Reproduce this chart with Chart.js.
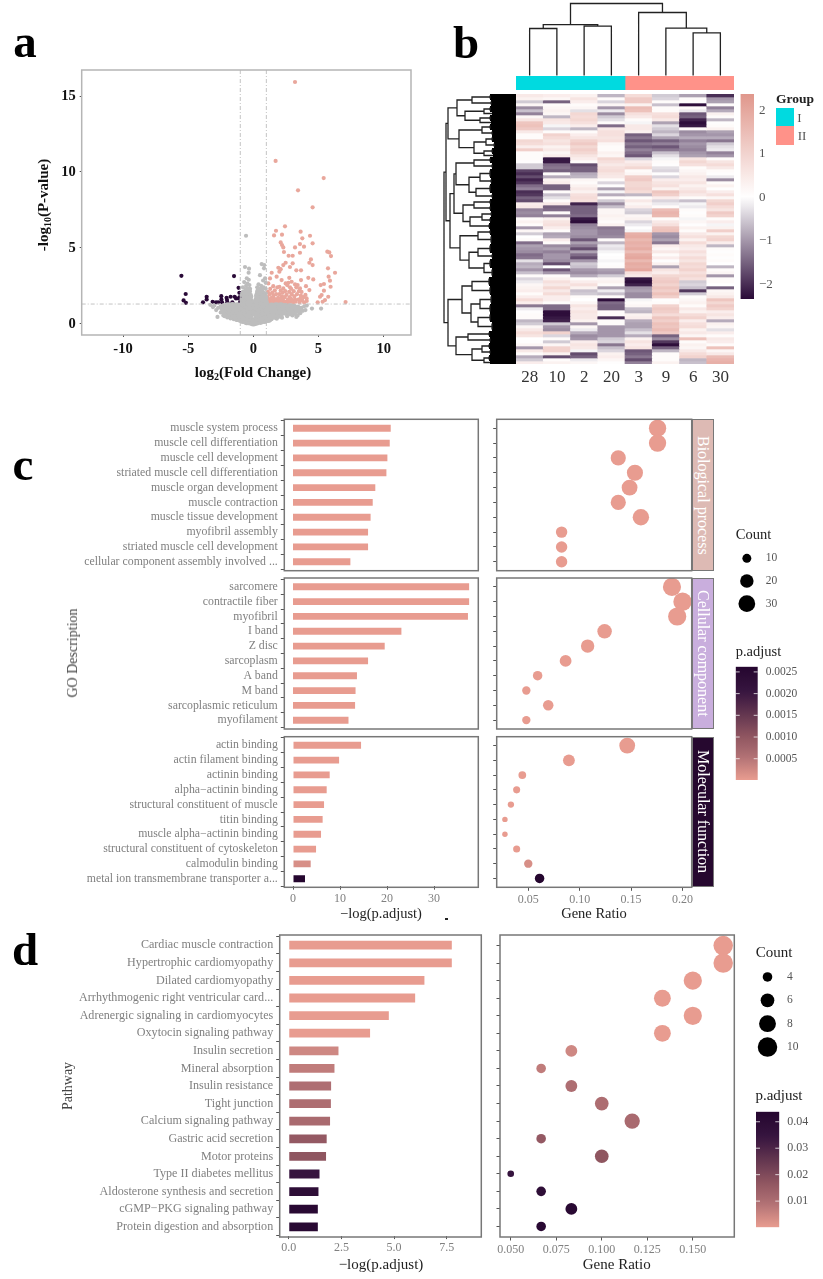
<!DOCTYPE html>
<html>
<head>
<meta charset="utf-8">
<title>Volcano, heatmap and enrichment panels</title>
<style>
  html, body { margin: 0; padding: 0; background: #fff; }
  #page { position: relative; width: 823px; height: 1279px; overflow: hidden; font-family: "Liberation Serif", serif; filter: blur(0.35px); }
  #page canvas { position: absolute; }
  .txt { position: absolute; white-space: nowrap; line-height: 1; }
  .txt sub { font-size: 10px; line-height: 0; vertical-align: -3px; }
  .strip { position: absolute; box-sizing: border-box; border: 1.5px solid #777; color: #fff; font-size: 16px;
           writing-mode: vertical-rl; display: flex; align-items: center; justify-content: center; }
  .swatch { position: absolute; }
</style>
<script src="https://cdn.jsdelivr.net/npm/chart.js@4/dist/chart.umd.min.js"></script>
</head>
<body>
<div id="page"></div>
<script>
// panel a: volcano points, [log2FC, -log10P]
const volcanoUp = [[3.2,15.93],[1.71,10.73],[5.4,9.6],[3.43,8.79],[4.55,7.67],[2.43,6.42],[1.74,6.13],[1.59,5.82],[2.2,5.87],[3.63,6.07],[4.35,5.8],[3.76,5.63],[2.1,5.36],[4.55,5.3],[3.58,5.25],[2.2,5.19],[2.3,5.03],[3.2,5.03],[3.89,5.08],[2.35,4.73],[3.58,4.68],[5.68,4.75],[5.83,4.7],[5.96,4.46],[2.71,4.48],[3.02,4.48],[4.42,4.24],[4.3,4.02],[4.55,3.87],[3.02,3.98],[2.48,4.02],[2.3,3.87],[2.81,3.74],[1.92,3.69],[2.1,3.6],[3.3,3.52],[3.66,3.52],[5.73,3.65],[6.27,3.36],[1.41,3.36],[2,3.43],[1.79,3.1],[1.28,2.99],[4.22,3.03],[4.6,2.92],[5.78,3.1],[5.88,2.84],[2.76,3.03],[3.66,2.88],[2.17,2.88],[2.94,2.77],[2.69,2.7],[2.48,2.66],[3.2,2.59],[3.4,2.55],[5.17,2.55],[5.42,2.62],[5.93,2.44],[1.15,2.66],[1.53,2.48],[2,2.44],[2.3,2.33],[2.81,2.4],[3.58,2.33],[4.04,2.48],[4.3,2.22],[5.42,2.18],[5.24,1.89],[5.75,1.78],[5.12,1.78],[5.5,1.56],[5.32,1.45],[4.94,1.41],[7.08,1.43],[4.09,1.67],
  [1.08,1.4],[1.1,1.75],[1.12,2.1],[1.2,1.5],[1.25,1.95],[1.3,2.3],[1.35,1.38],[1.4,1.7],[1.45,2.05],[1.5,1.45],[1.55,1.85],[1.6,1.38],[1.65,2.2],[1.7,1.6],[1.75,1.95],[1.8,1.4],[1.85,2.4],[1.9,1.7],[1.95,1.4],[2,1.95],[2.05,1.55],[2.1,2.2],[2.15,1.4],[2.2,1.8],[2.25,2.05],[2.3,1.5],[2.35,1.38],[2.4,1.75],[2.45,2.15],[2.5,1.45],[2.55,1.9],[2.6,2.55],[2.65,1.6],[2.7,1.38],[2.75,2.1],[2.8,1.75],[2.85,1.45],[2.9,2.3],[2.95,1.95],[3,1.55],[3.05,1.38],[3.1,2.15],[3.15,1.8],[3.25,1.45],[3.3,2.4],[3.35,1.95],[3.45,1.6],[3.5,2.15],[3.55,1.4],[3.65,1.85],[3.7,2.1],[3.75,1.55],[3.85,1.75],[3.9,1.4],[4,1.9],[4.1,1.5],[1.15,1.6],[1.3,1.6],[1.45,1.5],[1.6,1.65],[1.75,1.48],[1.9,1.5],[2.1,1.68],[2.3,1.68],[2.6,1.42],[2.9,1.62],[3.2,1.6],[3.6,1.65]];
const volcanoDown = [[-5.52,3.16],[-1.48,3.14],[-5.19,1.96],[-1.13,2.37],[-1.07,2.04],[-5.35,1.54],[-5.17,1.38],[-3.86,1.41],[-3.58,1.78],[-3.58,1.6],[-3.12,1.45],[-2.86,1.41],[-2.69,1.41],[-2.46,1.82],[-2.4,1.41],[-2.05,1.71],[-1.99,1.41],[-1.74,1.78],[-1.61,1.41],[-1.43,1.78],[-1.33,1.67],[-1.13,1.67],[-1.02,1.41],[-1.02,1.78],[-2.02,1.56],[-2.45,1.6]];
const volcanoCore = [[-.8,.28],[-.5,.2],[-.25,.18],[0,.12],[.25,.17],[.55,.22],[.85,.28],[1.15,.35],[-1.2,.42],[-1.7,.55],[-1.4,.6],[-1,.58],[-.7,.5],[-.4,.42],[.35,.42],[.7,.5],[1,.55],[1.35,.55],[1.7,.55],[2,.62],[-2.1,.72],[-1.8,.85],[-1.45,.88],[-1.1,.85],[-.8,.8],[-.5,.72],[-.3,.62],[.3,.65],[.55,.75],[.85,.82],[1.2,.82],[1.55,.85],[1.9,.88],[2.25,.85],[2.55,.8],[2.85,.8],[-2.25,1.05],[-1.95,1.12],[-1.6,1.14],[-1.25,1.12],[-.95,1.1],[-.65,1.02],[-.4,.95],[-.25,.85],[.25,.9],[.45,1.02],[.75,1.08],[1.05,1.08],[1.4,1.1],[1.75,1.12],[2.1,1.12],[2.45,1.08],[2.8,1.05],[3.1,1.02],[3.4,.95],[-.7,1.35],[-.45,1.25],[-.3,1.15],[-.6,1.6],[-.4,1.55],[-.25,1.4],[-.5,1.9],[-.35,1.8],[-.45,2.15],[.25,1.15],[.4,1.3],[.7,1.3],[.35,1.55],[.6,1.6],[.85,1.4],[.4,1.85],[.7,1.9],[.5,2.15],[.8,1.7]];
const volcanoEdge = [[-3.3,1.25],[-3.1,1.1],[-3,1.2],[-2.85,.9],[-2.75,.45],[-2.7,1.05],[-2.5,1.15],[-2.5,.75],[-2.4,.95],[-2.3,.55],[-2.2,.5],[-2,.42],[-1.75,.35],[-1.5,.3],[-1.3,.25],[-1.05,.2],[3.2,.65],[3.4,.55],[3.3,.45],[3.6,.7],[3.7,1.05],[3.9,1.15],[4.1,1.2],[4.5,1],[5.2,1],[4,.9],[3.8,.85],[1.4,.3],[1.8,.33],[2.2,.4],[2.6,.5],[3,.55],[-.64,3.74],[-.33,3.63],[-.36,3.36],[-.56,5.8],[.64,3.93],[.84,3.87],[.82,3.65],[.51,3.2],[.9,2.99],[.75,2.85],[.95,2.7],[-.5,3],[-.35,2.9],[-.7,2.75],[-.45,2.65],[-.55,2.5],[-.3,2.55],[-.8,2.4],[-.25,2.3],[.3,2.4],[.4,2.6],[.6,2.5],[.8,2.4],[.95,2.3],[.3,2.1],[-.8,2.1],[-.9,1.9],[-.9,1.6],[.95,2],[.95,1.6]];
const volcanoXTicks = [-10, -5, 0, 5, 10];
const volcanoYTicks = [0, 5, 10, 15];
const foldCutoffs = [-1, 1];
const pCutoff = 1.3;

// panel b: heatmap, one list per sample, top row first
const sampleNames = ['28', '10', '2', '20', '3', '9', '6', '30'];
const col28 = [.5,.3,-.5,.2,-1.1,-.6,-1.2,.2,.6,1.3,1.4,1.2,.5,.1,.1,.9,.8,.4,1.1,.1,.1,.1,.05,-.5,-.5,-1.8,-2,-1.7,-2.1,-1.9,-1.4,-1.2,-2,-1.9,-1.5,-1.7,.4,.5,-1.2,-1.1,-1.2,.1,.3,.1,-1,.2,-.5,0,.1,-1.4,-.9,-1,-1.1,-1.4,-1.3,-.3,-.8,-.7,-1,-.6,.1,-.4,-.2,.2,.3,.4,.1,.4,.8,.4,-1.3,-.2,.05,.1,.1,-.7,-.5,.2,.5,.8,.6,0,.05,.2,-1,.5,.1,-.8,-.5,.4];
const col10 = [.4,.2,-1.5,.1,.2,.3,.2,-.7,.6,.5,-.1,-.4,.1,1,.8,.6,.7,.3,.5,.2,.4,-2.2,-2.2,-1.4,-1.3,-1.5,.1,-.8,.3,.4,-1.5,-1.5,.1,-.6,-.3,.1,.5,-1.5,-1.4,.1,-1.2,.3,.6,.7,.4,.1,-.9,-.8,.4,.1,-1.1,-.9,-1.2,-1,-1,-1.1,-1.7,0,-1.6,-1,.1,.3,.7,.5,.9,.5,.8,.4,.4,.1,-1.4,-1.4,-2.3,-2.3,-2.2,-2.1,-.5,-1,-1.1,1,-.4,.1,-.5,.2,1,1,.3,-1.7,.1,.3];
const col2 = [.3,.6,.4,.1,.2,-.3,.9,.8,.9,.7,.4,-.7,.1,.4,.6,1,1.2,.9,1.1,.9,.6,.4,.1,-1.7,-1.5,-1.5,-.8,-.7,.2,.1,.3,.5,.3,.7,.8,.7,-2.1,-1.5,-1.5,-1.5,-1.4,-2.2,-2.3,-1.2,-1.1,-1,-1,-1.1,-1.6,-.9,-1.2,-1.7,-.9,-1.4,-1.7,-1,-.5,-.6,-1,-1.1,-.8,.1,.4,.7,.3,-.6,-.5,.1,0,.2,.6,.4,.6,.5,.5,.3,-1,.2,-.2,-.8,-1.1,-1,.4,.6,.5,-.1,-1.7,-1.5,-.2,.2];
const col20 = [-.7,.1,-.4,.2,-1,-.2,-1.1,-.5,-.3,.1,-1.4,.5,.7,.7,.6,.7,.2,.1,.1,.3,.2,.9,.7,.5,.7,.8,.6,.5,.1,-.4,.05,-.9,-.1,-.8,.1,-.5,-1.1,-.6,.2,.2,.3,.2,.1,.3,-1.3,-1.2,-1.2,-1.1,.1,-.7,-.2,-.3,-.1,0,.05,-.1,.05,.1,-.9,-1,-.5,.2,.3,.1,-.9,-.2,-.6,.1,-2.3,-1.4,-1.5,-1.5,.1,.1,-2,.1,.1,-1,-1,-1,-1,-.5,-.4,-1.3,-.6,-.4,.3,.4,.2,.05];
const col3 = [.8,1.2,1.2,.3,1.5,1.4,.7,.5,.1,-.1,.5,.5,.3,-1.5,-1.3,-1.6,-1.3,-1.5,-1.2,-1.4,-1.6,-.4,.4,.6,.9,.1,.2,1.1,1.2,.9,.9,1,.8,-.7,.1,.5,.2,.4,-.4,-.5,.2,.3,-.4,-.2,.05,-.1,1.8,1.9,1.6,1.8,1.7,1.9,1.5,1.9,2,1.6,1.9,1.8,2,.7,.5,-2.2,-2.3,-2.1,-1,-.9,-1.1,-1.1,-.1,.1,.2,-.6,-.7,.3,.4,-.8,-.9,-.9,-.6,-.3,-.8,.3,.6,.4,.6,-1.6,-1.5,-1.3,-1.7,-1.2];
const col9 = [-.5,-.4,.1,-.6,.1,.1,.7,.8,.5,-.9,-.3,-.5,-.7,-.4,-.9,-1.5,-1.2,-1.6,-1.3,-.6,-.3,-.1,.1,.05,-.3,-.4,.05,-.4,.4,.6,.7,.3,1.3,1.1,.4,-.4,-.2,.1,1.5,1.7,1.6,.1,.5,.7,1.3,1.4,-1,-1.1,-.9,-1.3,.4,.2,.5,.1,.4,.05,.3,-.9,.6,.4,.9,1.1,1.2,1,1.3,1.1,1.4,1.1,.05,.1,1,1.2,1.1,.8,1.3,1.1,1.4,1.3,1.5,1.2,-1.5,-1.1,-1.9,-2.3,-1.5,-.7,.1,.1,.1,.3];
const col6 = [-.9,.1,.05,-2.3,.1,-.2,-1.6,-1.5,-2.1,-2.3,-2.2,.1,-1.1,-1,-.8,-1.2,-1,-1.1,-1.2,-1,-.9,.6,.9,.7,.1,.2,.3,.5,.4,.6,.3,.5,.7,.5,.1,-.6,-.1,-.2,.1,.05,.1,-.1,.2,.05,.3,.1,.5,.7,.3,.8,.5,.4,.7,.5,.8,.6,.9,.8,1,.7,.9,.7,-.5,-.4,-.6,-1.9,-.5,.1,.2,.3,.1,.5,.3,.8,1,.4,.7,.8,.3,.5,.2,1.4,.1,.3,.2,.5,.8,1,-.7,-.6];
const col30 = [-2,-1,-.9,.1,-1.2,-.8,.3,.1,-.7,.05,.1,.3,-.9,-1,-.8,-1.3,-.5,-.3,-.2,-1.2,-1,.1,.6,.8,.5,.1,.05,-.2,-1.1,.1,.3,.05,.4,.7,.2,.9,1.1,.8,.6,1.2,1,.1,.4,-.1,.3,1.1,.3,.9,1,.4,-.7,.1,.05,.1,.05,.1,0,-.7,.1,.2,-1,.1,.1,0,-1.5,.2,.3,.5,1.3,.9,1.2,1,.4,.6,.4,-.8,.3,.2,-.3,.4,.1,.5,.4,.1,1.4,.2,.5,1.5,1.7,1.8];
const heatColumns = [col28, col10, col2, col20, col3, col9, col6, col30];
const heatTicks = [-2, -1, 0, 1, 2];
const heatTickLabels = ['\u22122', '\u22121', '0', '1', '2'];
const groupSizes = [4, 4];

// dendrograms: node = [height, child, child]; column leaf = sample index; row leaf = [rows, height]
const colTree = [72, [50.8, [47, 0, 1], [49.3, 2, 3]], [63, 4, [47.3, 5, [42.6, 6, 7]]]];
const rowU1 = [59, [44, [2,26], [2,25]], [51, [32, [2,26], [1,24]], [36, [2,26], [1,25]]]];
const rowU2 = [57, [34, [2,26], [2,24]], [42, [30, [2,24], [2,22]], [32, [2,24], [1,23]]]];
const rowM1 = [60, [42, [2,26], [2,24]], [47, [36, [3,26], [2,25]], [40, [3,26], [2,24]]]];
const rowM2 = [53, [42, [2,26], [2,26]], [46, [34, [2,25], [2,26]], [2,27]]];
const rowM3 = [56, [38, [2,26], [3,25]], [47, [38, [3,26], [2,24]], [32, [3,26], [3,24]]]];
const rowL1 = [54, [44, [3,27], [3,26]], [45, [36, [3,25], [3,26]], [38, [3,26], [3,24]]]];
const rowL2 = [60, [48, [2,27], [2,26]], [44, [34, [2,27], [2,26]], [32, [2,27], [1,26]]]];
const rowTree = [72, [70, [68, rowU1, rowU2], [66, [62, rowM1, rowM2], rowM3]], [68, rowL1, rowL2]];

// panel c: GO enrichment
const bpTerms = ['muscle system process', 'muscle cell differentiation', 'muscle cell development', 'striated muscle cell differentiation', 'muscle organ development', 'muscle contraction', 'muscle tissue development', 'myofibril assembly', 'striated muscle cell development', 'cellular component assembly involved ...'];
const ccTerms = ['sarcomere', 'contractile fiber', 'myofibril', 'I band', 'Z disc', 'sarcoplasm', 'A band', 'M band', 'sarcoplasmic reticulum', 'myofilament'];
const mfTerms = ['actin binding', 'actin filament binding', 'actinin binding', 'alpha\u2212actinin binding', 'structural constituent of muscle', 'titin binding', 'muscle alpha\u2212actinin binding', 'structural constituent of cytoskeleton', 'calmodulin binding', 'metal ion transmembrane transporter a...'];
const bpLogP = [20.78, 20.57, 20.07, 19.86, 17.5, 16.95, 16.5, 15.96, 15.96, 12.2];
const ccLogP = [37.45, 37.45, 37.2, 23.05, 19.5, 15.96, 13.6, 13.3, 13.2, 11.8];
const mfLogP = [14.47, 9.8, 7.8, 7.16, 6.6, 6.3, 5.96, 4.9, 3.76, 2.55];
const bpRatio = [.1757, .1757, .1375, .1537, .1485, .1375, .1595, .0824, .0824, .0824];
const ccRatio = [.1897, .2, .1948, .1242, .1077, .0863, .0591, .0481, .0694, .0481];
const mfRatio = [.1462, .0895, .0442, .0387, .0331, .0273, .0273, .0387, .05, .061];
const bpCount = [32, 32, 25, 28, 27, 25, 29, 15, 15, 15];
const ccCount = [35, 36, 35, 23, 20, 16, 11, 9, 13, 9];
const mfCount = [27, 16, 8, 7, 6, 5, 5, 7, 9, 11];
const goLogTicks = [0, 10, 20, 30];
const goRatioTicks = [0.05, 0.1, 0.15, 0.2];
const goCountLegend = [10, 20, 30];
const goPTicks = [0.0005, 0.001, 0.0015, 0.002, 0.0025];

// panel d: pathway enrichment
const pathways = ['Cardiac muscle contraction', 'Hypertrophic cardiomyopathy', 'Dilated cardiomyopathy', 'Arrhythmogenic right ventricular card...', 'Adrenergic signaling in cardiomyocytes', 'Oxytocin signaling pathway', 'Insulin secretion', 'Mineral absorption', 'Insulin resistance', 'Tight junction', 'Calcium signaling pathway', 'Gastric acid secretion', 'Motor proteins', 'Type II diabetes mellitus', 'Aldosterone synthesis and secretion', 'cGMP\u2212PKG signaling pathway', 'Protein digestion and absorption'];
const pathLogP = [7.74, 7.74, 6.44, 6, 4.75, 3.86, 2.36, 2.17, 2.01, 2, 1.96, 1.8, 1.77, 1.46, 1.41, 1.38, 1.38];
const pathRatio = [.1667, .1667, .15, .1333, .15, .1333, .0833, .0667, .0833, .1, .1167, .0667, .1, .05, .0667, .0833, .0667];
const pathCount = [10, 10, 9, 8, 9, 8, 5, 4, 5, 6, 7, 4, 6, 3, 4, 5, 4];
const pathLogTicks = [0, 2.5, 5, 7.5];
const pathRatioTicks = [0.05, 0.075, 0.1, 0.125, 0.15];
const pathCountLegend = [4, 6, 8, 10];
const pathPTicks = [0.01, 0.02, 0.03, 0.04];

const page = document.getElementById('page');
const SERIF = '"Liberation Serif", serif';
const TICK_GRAY = '#808080';
const FRAME_GRAY = '#777';
const pStops = [[0, '#e89c90'], [0.22, '#ae6e72'], [0.39, '#8e5560'], [0.78, '#37153f'], [1, '#25062f']];

Chart.defaults.animation = false;
Chart.defaults.responsive = false;
Chart.defaults.font.family = SERIF;
Chart.defaults.plugins.legend.display = false;
Chart.defaults.plugins.tooltip.enabled = false;

Chart.register({
  id: 'frame',
  afterDatasetsDraw(chart, args, opts) {
    if (!opts.color) return;
    const a = chart.chartArea;
    const pad = opts.pad || 0;
    const c = chart.ctx;
    c.save();
    c.strokeStyle = opts.color;
    c.lineWidth = opts.width || 1.5;
    c.strokeRect(a.left, a.top - pad, a.right - a.left, a.bottom - a.top + 2 * pad);
    c.restore();
  }
}, {
  id: 'barMarks',
  afterDatasetsDraw(chart, args, opts) {
    if (!opts.on) return;
    const a = chart.chartArea;
    const c = chart.ctx;
    c.save();
    c.strokeStyle = 'rgba(255,255,255,0.75)';
    c.lineWidth = 1;
    chart.scales.y.ticks.forEach((t) => {
      const y = chart.scales.y.getPixelForValue(t.value);
      [[a.left, a.left + 4], [a.right - 4, a.right]].forEach(([x0, x1]) => {
        c.beginPath();
        c.moveTo(x0, y);
        c.lineTo(x1, y);
        c.stroke();
      });
    });
    c.restore();
  }
});

function hex(c) {
  return [1, 3, 5].map((i) => parseInt(c.slice(i, i + 2), 16));
}

function mix(a, b, t) {
  const ca = hex(a);
  const cb = hex(b);
  const out = ca.map((v, i) => Math.round(v + (cb[i] - v) * t));
  return `rgb(${out[0]},${out[1]},${out[2]})`;
}

function stopColor(stops, t) {
  const k = Math.min(1, Math.max(0, t));
  for (let i = 1; i < stops.length; i++) {
    if (k <= stops[i][0]) {
      return mix(stops[i - 1][1], stops[i][1], (k - stops[i - 1][0]) / (stops[i][0] - stops[i - 1][0]));
    }
  }
  return stops[stops.length - 1][1];
}

function heatColor(v) {
  return v >= 0 ? mix('#ffffff', '#e0978c', v / 2.37) : mix('#ffffff', '#2a0a38', -v / 2.34);
}

function addText(html, x, y, style) {
  const s = style || {};
  const el = document.createElement('div');
  el.className = 'txt';
  el.innerHTML = html;
  el.style.left = x + 'px';
  el.style.top = y + 'px';
  el.style.fontSize = (s.size || 14) + 'px';
  el.style.color = s.color || '#333';
  if (s.bold) el.style.fontWeight = 'bold';
  el.style.transform = `translate(-50%,-50%) rotate(${s.rotate || 0}deg)`;
  page.appendChild(el);
}

function addRect(x, y, w, h, color) {
  const el = document.createElement('div');
  el.className = 'swatch';
  el.style.cssText = `left:${x}px;top:${y}px;width:${w}px;height:${h}px;background:${color}`;
  page.appendChild(el);
}

function addStrip(label, x, y, w, h, color) {
  const el = document.createElement('div');
  el.className = 'strip';
  el.textContent = label;
  el.style.cssText = `left:${x}px;top:${y}px;width:${w}px;height:${h}px;background:${color}`;
  page.appendChild(el);
}

function noScalePadding(s) {
  s.paddingTop = 0;
  s.paddingBottom = 0;
  s.paddingLeft = 0;
  s.paddingRight = 0;
}

// box = plot rectangle on the page, gl/gr/gt/gb = room kept around it for the axes
function addChart(box, type, data, xAxis, yAxis, plugins, extra) {
  const cLeft = Math.floor(box.l - (box.gl || 0));
  const cTop = Math.floor(box.t - (box.gt || 0));
  const cRight = Math.ceil(box.r + (box.gr || 0));
  const cBottom = Math.ceil(box.b + (box.gb || 0));
  const gL = box.l - cLeft;
  const gT = box.t - cTop;
  const gR = cRight - box.r;
  const gB = cBottom - box.b;
  const canvas = document.createElement('canvas');
  canvas.width = cRight - cLeft;
  canvas.height = cBottom - cTop;
  canvas.style.left = cLeft + 'px';
  canvas.style.top = cTop + 'px';
  page.appendChild(canvas);

  const yOn = yAxis.display !== false;
  const xOn = xAxis.display !== false;
  const yRight = yAxis.position === 'right';
  if (xOn) xAxis.afterFit = (s) => { s.height = gB; noScalePadding(s); };
  if (yOn) yAxis.afterFit = (s) => { s.width = yRight ? gR : gL; noScalePadding(s); };

  return new Chart(canvas, {
    type,
    data,
    options: Object.assign({
      layout: {
        autoPadding: false,
        padding: {
          left: yOn && !yRight ? 0 : gL,
          right: yOn && yRight ? 0 : gR,
          top: gT,
          bottom: xOn ? 0 : gB
        }
      },
      scales: { x: xAxis, y: yAxis },
      plugins: plugins || {}
    }, extra || {})
  });
}

function tickAxis(min, max, values, labeler, font, color, tickLen, pad) {
  return {
    type: 'linear',
    min,
    max,
    afterBuildTicks(s) { s.ticks = values.map((v) => ({ value: v })); },
    grid: { display: tickLen > 0, drawOnChartArea: false, drawTicks: tickLen > 0, tickLength: tickLen, tickColor: '#555', tickWidth: 1 },
    border: { display: false },
    ticks: { autoSkip: false, maxRotation: 0, padding: pad, color, font, callback: labeler }
  };
}

function termAxis(font) {
  return {
    type: 'category',
    grid: { display: true, drawOnChartArea: false, tickLength: 3.5, tickColor: '#555', tickWidth: 1 },
    border: { display: false },
    ticks: { autoSkip: false, padding: 3, color: TICK_GRAY, font }
  };
}

function toPoints(pairs) {
  return pairs.map(([x, y]) => ({ x, y }));
}

// panel a
function volcanoPanel() {
  const top = 16.72;
  const bottom = -0.74;
  const left = -13.17;
  const right = 12.1;
  const guide = { type: 'scatter', showLine: true, pointRadius: 0, borderColor: '#c4c4c4', borderWidth: 1, borderDash: [4, 2, 1, 2] };
  const bold = { size: 14.5, weight: 'bold' };
  const datasets = [
    { data: toPoints(volcanoCore), pointRadius: 4.5, backgroundColor: '#bdbdbd', borderWidth: 0 },
    { data: toPoints(volcanoEdge), pointRadius: 2.1, backgroundColor: '#bdbdbd', borderWidth: 0 },
    Object.assign({ data: [{ x: foldCutoffs[0], y: bottom }, { x: foldCutoffs[0], y: top }] }, guide),
    Object.assign({ data: [{ x: foldCutoffs[1], y: bottom }, { x: foldCutoffs[1], y: top }] }, guide),
    Object.assign({ data: [{ x: left, y: pCutoff }, { x: right, y: pCutoff }] }, guide),
    { data: toPoints(volcanoUp), pointRadius: 2.1, backgroundColor: '#e9a79c', borderWidth: 0 },
    { data: toPoints(volcanoDown), pointRadius: 2.1, backgroundColor: '#2a0a38', borderWidth: 0 }
  ];
  addChart({ l: 81.7, r: 411, t: 70, b: 335, gl: 60, gb: 26, gt: 2, gr: 2 }, 'scatter', { datasets },
    tickAxis(left, right, volcanoXTicks, (v) => String(v), bold, '#111', 2, 4),
    tickAxis(bottom, top, volcanoYTicks, (v) => String(v), bold, '#111', 2, 4),
    { frame: { color: '#b5b5b5', width: 1.5 } });
  addText('log<sub>2</sub>(Fold Change)', 253, 372, { size: 15, bold: true, color: '#111' });
  addText('-log<sub>10</sub>(P-value)', 42.7, 205, { size: 15, bold: true, color: '#111', rotate: -90 });
}

function treeSegments(node, leafX, segs) {
  if (typeof node === 'number') return { x: leafX(node), h: 0 };
  const a = treeSegments(node[1], leafX, segs);
  const b = treeSegments(node[2], leafX, segs);
  segs.push({ x: a.x, y: a.h }, { x: a.x, y: node[0] }, { x: b.x, y: node[0] }, { x: b.x, y: b.h }, { x: NaN, y: NaN });
  return { x: (a.x + b.x) / 2, h: node[0] };
}

function rowSegments(node, cursor, branches, leaves) {
  if (node.length === 2) {
    const first = cursor.row + 0.5;
    for (let i = 0; i < node[0]; i++) {
      leaves.push({ x: node[1], y: first + i }, { x: 0, y: first + i }, { x: NaN, y: NaN });
    }
    const last = first + node[0] - 1;
    branches.push({ x: node[1], y: first }, { x: node[1], y: last }, { x: NaN, y: NaN });
    cursor.row += node[0];
    return { y: (first + last) / 2, h: node[1] };
  }
  const a = rowSegments(node[1], cursor, branches, leaves);
  const b = rowSegments(node[2], cursor, branches, leaves);
  branches.push({ x: a.h, y: a.y }, { x: node[0], y: a.y }, { x: node[0], y: b.y }, { x: b.h, y: b.y }, { x: NaN, y: NaN });
  return { y: (a.y + b.y) / 2, h: node[0] };
}

// panel b
function heatmapPanel() {
  const rows = heatColumns[0].length;
  const datasets = [];
  for (let r = 0; r < rows; r++) {
    datasets.push({
      data: heatColumns.map(() => [r, r + 1]),
      backgroundColor: heatColumns.map((col) => heatColor(col[r])),
      borderWidth: 0,
      barPercentage: 1,
      categoryPercentage: 1,
      grouped: false
    });
  }
  addChart({ l: 516, r: 734, t: 94, b: 364, gb: 24, gt: 1, gr: 1 }, 'bar', { labels: sampleNames, datasets },
    { type: 'category', grid: { display: false, drawTicks: false }, border: { display: false }, ticks: { padding: 3.5, color: '#333', font: { size: 17 } } },
    { type: 'linear', display: false, min: 0, max: rows, reverse: true });

  const colSegs = [];
  treeSegments(colTree, (i) => i + 0.5, colSegs);
  addChart({ l: 516, r: 734, t: 0.3, b: 75.5, gt: 0, gb: 1 }, 'scatter', {
    datasets: [{ data: colSegs, showLine: true, pointRadius: 0, borderColor: '#222', borderWidth: 1.3, clip: false }]
  }, { type: 'linear', display: false, min: 0, max: heatColumns.length },
  { type: 'linear', display: false, min: 0, max: 75.2 });

  const branches = [];
  const leaves = [];
  rowSegments(rowTree, { row: 0 }, branches, leaves);
  addChart({ l: 444, r: 516, t: 94, b: 364, gt: 1, gb: 1, gl: 2 }, 'scatter', {
    datasets: [
      { data: branches, showLine: true, pointRadius: 0, borderColor: '#222', borderWidth: 1.3, clip: false },
      { data: leaves, showLine: true, pointRadius: 0, borderColor: '#000', borderWidth: 3.2 }
    ]
  }, { type: 'linear', display: false, min: 0, max: 72, reverse: true },
  { type: 'linear', display: false, min: 0, max: rows, reverse: true });

  addChart({ l: 516, r: 734, t: 76, b: 90, gt: 0, gb: 0 }, 'bar', {
    labels: ['Group'],
    datasets: [
      { data: [groupSizes[0]], backgroundColor: '#00dae0', barPercentage: 1, categoryPercentage: 1 },
      { data: [groupSizes[1]], backgroundColor: '#ff9289', barPercentage: 1, categoryPercentage: 1 }
    ]
  }, { type: 'linear', display: false, stacked: true, min: 0, max: 8 },
  { type: 'category', display: false, stacked: true }, {}, { indexAxis: 'y' });

  colorBar({ l: 740.5, r: 754, t: 94, b: 299, gr: 24 }, -2.34, 2.37, heatTicks,
    (v) => heatTickLabels[heatTicks.indexOf(v)], (v) => heatColor(v), 13, 5, false);
  addText('Group', 795, 99, { size: 13.5, bold: true, color: '#222' });
  addRect(776, 107.5, 18, 18.5, '#00dae0');
  addRect(776, 126, 18, 18.5, '#ff9289');
  addText('I', 799.5, 117, { size: 13, color: '#555' });
  addText('II', 802, 135, { size: 13, color: '#555' });
}

function colorBar(box, min, max, ticks, labeler, colorAt, size, pad, marks) {
  const fill = (c) => {
    const area = c.chart.chartArea;
    if (!area) return '#fff';
    const g = c.chart.ctx.createLinearGradient(0, area.bottom, 0, area.top);
    for (let i = 0; i <= 20; i++) g.addColorStop(i / 20, colorAt(min + (max - min) * i / 20));
    return g;
  };
  return addChart(box, 'bar', {
    labels: [''],
    datasets: [{ data: [[min, max]], backgroundColor: fill, barPercentage: 1, categoryPercentage: 1, borderWidth: 0 }]
  }, { type: 'category', display: false },
  Object.assign(tickAxis(min, max, ticks, labeler, { size }, '#555', 0, pad), { position: 'right' }),
  { barMarks: { on: marks } });
}

function sizeLegend(box, counts, radius, labelPad) {
  addChart(box, 'scatter', {
    datasets: [{
      data: counts.map((c, i) => ({ x: 0, y: i })),
      pointRadius: counts.map(radius),
      backgroundColor: '#000',
      borderWidth: 0
    }]
  }, { type: 'linear', display: false, min: -1, max: 1 },
  Object.assign(tickAxis(-0.5, counts.length - 0.5, counts.map((c, i) => i), (v) => String(counts[v]), { size: 11.5 }, '#555', 0, labelPad),
    { position: 'right', reverse: true }));
}

function barPanel(box, terms, values, axis, showX, pColor, pad, thickness, fontSize) {
  addChart(box, 'bar', {
    labels: terms,
    datasets: [{
      data: values,
      backgroundColor: values.map((v) => pColor(Math.pow(10, -v))),
      barPercentage: thickness,
      categoryPercentage: 1,
      borderWidth: 0
    }]
  }, showX ? axis() : Object.assign(axis(), { display: false }), termAxis({ size: fontSize }),
  { frame: { color: FRAME_GRAY, width: 1.5, pad } }, { indexAxis: 'y' });
}

function dotPanel(box, rows, ratio, counts, values, axis, showX, pColor, radius) {
  addChart(box, 'scatter', {
    datasets: [{
      data: ratio.map((x, i) => ({ x, y: i })),
      pointRadius: counts.map(radius),
      backgroundColor: values.map((v) => pColor(Math.pow(10, -v))),
      borderWidth: 0
    }]
  }, showX ? axis() : Object.assign(axis(), { display: false }),
  {
    type: 'linear',
    min: -0.6,
    max: rows - 0.4,
    reverse: true,
    afterBuildTicks(s) { s.ticks = ratio.map((x, i) => ({ value: i })); },
    grid: { display: true, drawOnChartArea: false, tickLength: 3.5, tickColor: '#555', tickWidth: 1 },
    border: { display: false },
    ticks: { display: false }
  },
  { frame: { color: FRAME_GRAY, width: 1.5 } });
}

// panel c
function goPanel() {
  const pMin = 0.00001;
  const pMax = 0.00262;
  const pColor = (p) => stopColor(pStops, (p - pMin) / (pMax - pMin));
  const radius = (c) => Math.sqrt(2.5 * c - 5);
  const font = { size: 12 };
  const logAxis = () => tickAxis(-1.85, 39.4, goLogTicks, (v) => String(v), font, TICK_GRAY, 3.5, 2);
  const ratioAxis = () => tickAxis(0.0193, 0.2089, goRatioTicks, (v) => v.toFixed(2), font, TICK_GRAY, 3.5, 2);
  const rowsOut = [
    { terms: bpTerms, log: bpLogP, ratio: bpRatio, count: bpCount, t: 419.3, b: 570.7 },
    { terms: ccTerms, log: ccLogP, ratio: ccRatio, count: ccCount, t: 578, b: 729 },
    { terms: mfTerms, log: mfLogP, ratio: mfRatio, count: mfCount, t: 736.7, b: 887.3 }
  ];
  rowsOut.forEach((r, i) => {
    const last = i === rowsOut.length - 1;
    const pad = (r.b - r.t - 148.3) / 2;
    barPanel({ l: 284.3, r: 478.3, t: r.t + pad, b: r.b - pad, gl: 220, gr: 2, gt: 3, gb: last ? 20 : 3 },
      r.terms, r.log, logAxis, last, pColor, pad, 0.46, 11.8);
    dotPanel({ l: 496.7, r: 691.7, t: r.t, b: r.b, gl: 8, gr: 1, gt: 2, gb: last ? 20 : 2 },
      10, r.ratio, r.count, r.log, ratioAxis, last, pColor, radius);
  });
  addStrip('Biological process', 691.7, 419.3, 22, 151.4, '#ddbab4');
  addStrip('Cellular component', 691.7, 578, 22, 151, '#c9aedd');
  addStrip('Molecular function', 691.7, 736.7, 22, 150.6, '#26082f');
  addText('GO Description', 73, 653, { size: 14, color: '#444', rotate: -90 });
  addText('\u2212log(p.adjust)', 381, 913, { size: 14.5, color: '#222' });
  addText('Gene Ratio', 594, 913, { size: 14.5, color: '#222' });
  addRect(445, 918, 3, 2, '#222');

  addText('Count', 753.5, 534, { size: 14.5, color: '#222' });
  sizeLegend({ l: 736, r: 757.7, t: 547, b: 615, gr: 30, gt: 1, gb: 1 }, goCountLegend, radius, 8);
  addText('p.adjust', 758.5, 651, { size: 14.5, color: '#222' });
  colorBar({ l: 735.7, r: 757.7, t: 666.7, b: 780, gr: 50 }, pMin, pMax, goPTicks, (v) => v.toFixed(4),
    (p) => pColor(p), 11.5, 8, true);
}

// panel d
function pathwayPanel() {
  const pMin = 0.0001;
  const pMax = 0.0438;
  const pColor = (p) => stopColor(pStops, (p - pMin) / (pMax - pMin));
  const radius = (c) => Math.sqrt(12 * c - 25);
  const font = { size: 12 };
  const logAxis = () => tickAxis(-0.43, 9.14, pathLogTicks, (v) => v.toFixed(1), font, TICK_GRAY, 3.5, 2);
  const ratioAxis = () => tickAxis(0.0441, 0.1728, pathRatioTicks, (v) => v.toFixed(3), font, TICK_GRAY, 3.5, 2);
  const pad = (302 - 17 * 17.6) / 2;
  barPanel({ l: 279.7, r: 481.3, t: 935 + pad, b: 1237 - pad, gl: 220, gr: 2, gt: 3, gb: 20 },
    pathways, pathLogP, logAxis, true, pColor, pad, 0.5, 12.1);
  dotPanel({ l: 500, r: 734.3, t: 935, b: 1237, gl: 8, gr: 1, gt: 2, gb: 20 },
    17, pathRatio, pathCount, pathLogP, ratioAxis, true, pColor, radius);
  addText('Pathway', 68, 1086, { size: 14, color: '#444', rotate: -90 });
  addText('\u2212log(p.adjust)', 381, 1264, { size: 15, color: '#222' });
  addText('Gene Ratio', 616.7, 1264, { size: 15, color: '#222' });

  addText('Count', 774, 952, { size: 15, color: '#222' });
  sizeLegend({ l: 756, r: 779, t: 965.3, b: 1058.7, gr: 30, gt: 1, gb: 1 }, pathCountLegend, radius, 8);
  addText('p.adjust', 779, 1095, { size: 15, color: '#222' });
  colorBar({ l: 756, r: 779.3, t: 1111.7, b: 1227.3, gr: 30 }, pMin, pMax, pathPTicks, (v) => v.toFixed(2),
    (p) => pColor(p), 12, 8, true);
}

volcanoPanel();
heatmapPanel();
goPanel();
pathwayPanel();

addText('a', 25, 41, { size: 47, bold: true, color: '#000' });
addText('b', 466, 42, { size: 47, bold: true, color: '#000' });
addText('c', 23, 464, { size: 47, bold: true, color: '#000' });
addText('d', 25, 949, { size: 47, bold: true, color: '#000' });
</script>
</body>
</html>
